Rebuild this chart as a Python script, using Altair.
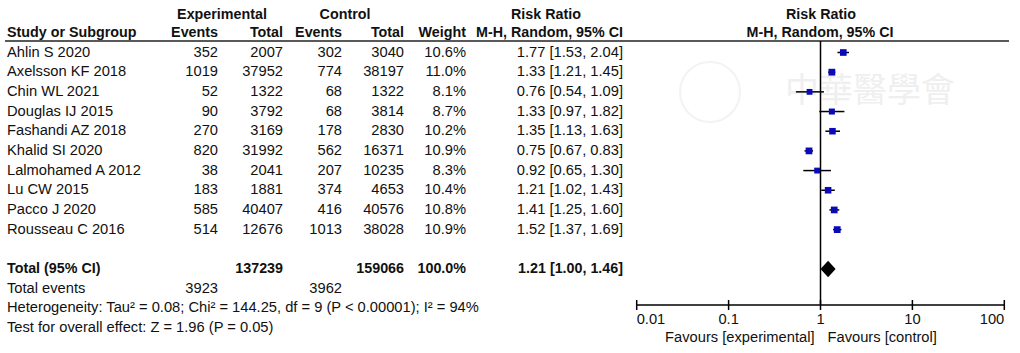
import altair as alt
import pandas as pd

# ---------------- data ----------------
studies = ["Ahlin S 2020", "Axelsson KF 2018", "Chin WL 2021", "Douglas IJ 2015",
           "Fashandi AZ 2018", "Khalid SI 2020", "Lalmohamed A 2012", "Lu CW 2015",
           "Pacco J 2020", "Rousseau C 2016"]
exp_events = [352, 1019, 52, 90, 270, 820, 38, 183, 585, 514]
exp_total = [2007, 37952, 1322, 3792, 3169, 31992, 2041, 1881, 40407, 12676]
ctrl_events = [302, 774, 68, 68, 178, 562, 207, 374, 416, 1013]
ctrl_total = [3040, 38197, 1322, 3814, 2830, 16371, 10235, 4653, 40576, 38028]
weight = [10.6, 11.0, 8.1, 8.7, 10.2, 10.9, 8.3, 10.4, 10.8, 10.9]
rr = [1.77, 1.33, 0.76, 1.33, 1.35, 0.75, 0.92, 1.21, 1.41, 1.52]
rr_lo = [1.53, 1.21, 0.54, 0.97, 1.13, 0.67, 0.65, 1.02, 1.25, 1.37]
rr_hi = [2.04, 1.45, 1.09, 1.82, 1.63, 0.83, 1.30, 1.43, 1.60, 1.69]

total_exp = 137239
total_ctrl = 159066
total_weight = 100.0
total_exp_events = 3923
total_ctrl_events = 3962
pooled_rr = 1.21
pooled_lo = 1.00
pooled_hi = 1.46

heterogeneity = "Heterogeneity: Tau² = 0.08; Chi² = 144.25, df = 9 (P < 0.00001); I² = 94%"
overall_test = "Test for overall effect: Z = 1.96 (P = 0.05)"

tick_values = [0.01, 0.1, 1, 10, 100]
tick_labels = ["0.01", "0.1", "1", "10", "100"]
favours_left = "Favours [experimental]"
favours_right = "Favours [control]"
watermark = "中華醫學會"

# ---------------- tables ----------------
study_rows = list(range(len(studies)))
ROW_TOTAL, ROW_EVENTS, ROW_HET, ROW_TEST = 11, 12, 13, 14

df = pd.DataFrame({
    "row": study_rows, "study": studies,
    "ee": exp_events, "et": exp_total, "ce": ctrl_events, "ct": ctrl_total,
    "w": weight, "rr": rr, "lo": rr_lo, "hi": rr_hi,
})
df["wtxt"] = [f"{v:.1f}%" for v in weight]
df["rrtxt"] = [f"{a:.2f} [{b:.2f}, {c:.2f}]" for a, b, c in zip(rr, rr_lo, rr_hi)]

df_total = pd.DataFrame({
    "row": [ROW_TOTAL], "label": ["Total (95% CI)"],
    "et": [str(total_exp)], "ct": [str(total_ctrl)],
    "w": [f"{total_weight:.1f}%"],
    "rrtxt": [f"{pooled_rr:.2f} [{pooled_lo:.2f}, {pooled_hi:.2f}]"],
})
df_events = pd.DataFrame({"row": [ROW_EVENTS], "label": ["Total events"],
                          "ee": [str(total_exp_events)], "ce": [str(total_ctrl_events)]})
df_notes = pd.DataFrame({"row": [ROW_HET, ROW_TEST], "label": [heterogeneity, overall_test]})

diamond = pd.DataFrame({"x": [pooled_lo, pooled_rr, pooled_hi], "row": [ROW_TOTAL] * 3,
                        "mid": [0, 1, 0]})
ticks = pd.DataFrame({"tick": tick_values, "label": tick_labels})

FONT = "Liberation Sans"
FS = 14.7
FSB = 14.3
TXT = "#111111"
BLUE = "#0a0ab8"

yscale = alt.Scale(domain=[0, 14], range=[52.5, 328])
xscale = alt.Scale(type="log", domain=[0.01, 100], range=[636.7, 1004.3])
Y = alt.Y("row:Q", scale=yscale, axis=None)


def col(data, field, x, align="right", bold=False):
    return alt.Chart(data).mark_text(
        align=align, baseline="middle", font=FONT, fontSize=FSB if bold else FS,
        fontWeight="bold" if bold else "normal", color=TXT
    ).encode(x=alt.value(x), y=Y, text=alt.Text(f"{field}:N"))


def header(text, x, y, align="center"):
    return alt.Chart(pd.DataFrame({"t": [text]})).mark_text(
        align=align, baseline="middle", font=FONT, fontSize=FSB, fontWeight="bold", color=TXT
    ).encode(x=alt.value(x), y=alt.value(y), text="t:N")


layers = []

# watermark
layers.append(alt.Chart(pd.DataFrame({"t": [watermark]})).mark_text(
    font="Noto Sans CJK TC", fontSize=34, color="#efefef", align="center", baseline="middle"
).encode(x=alt.value(870), y=alt.value(92), text="t:N"))
layers.append(alt.Chart(pd.DataFrame({"t": [watermark]})).mark_point(
    shape="circle", size=3600, filled=False, color="#efefef", strokeWidth=2
).encode(x=alt.value(710), y=alt.value(92)))

# headers
layers += [
    header("Experimental", 222, 15),
    header("Control", 345, 15),
    header("Risk Ratio", 546, 15),
    header("Risk Ratio", 821, 15),
    header("Study or Subgroup", 7, 33, "left"),
    header("Events", 218, 33, "right"),
    header("Total", 283, 33, "right"),
    header("Events", 342, 33, "right"),
    header("Total", 404, 33, "right"),
    header("Weight", 466, 33, "right"),
    header("M-H, Random, 95% CI", 623, 33, "right"),
    header("M-H, Random, 95% CI", 820, 33, "center"),
]
# header separator
layers.append(alt.Chart(pd.DataFrame({"a": [0]})).mark_rule(color="#222222", strokeWidth=1.5)
              .encode(x=alt.value(5), x2=alt.value(1009), y=alt.value(41)))

# study rows
layers += [
    col(df, "study", 7, "left"),
    col(df, "ee", 218), col(df, "et", 283), col(df, "ce", 342), col(df, "ct", 404),
    col(df, "wtxt", 466), col(df, "rrtxt", 623),
]
# totals
layers += [
    col(df_total, "label", 7, "left", True),
    col(df_total, "et", 283, bold=True), col(df_total, "ct", 404, bold=True),
    col(df_total, "w", 466, bold=True), col(df_total, "rrtxt", 623, bold=True),
    col(df_events, "label", 7, "left"),
    col(df_events, "ee", 218), col(df_events, "ce", 342),
    col(df_notes, "label", 7, "left"),
]

# forest plot: line of no effect
layers.append(alt.Chart(pd.DataFrame({"v": [1]})).mark_rule(color="black", strokeWidth=1.5)
              .encode(x=alt.X("v:Q", scale=xscale, axis=None), y=alt.value(41), y2=alt.value(305)))
# CIs
layers.append(alt.Chart(df).mark_rule(color="black", strokeWidth=1.5).encode(
    x=alt.X("lo:Q", scale=xscale, axis=None), x2="hi:Q", y=Y))
# squares
layers.append(alt.Chart(df).mark_square(color=BLUE, opacity=1).encode(
    x=alt.X("rr:Q", scale=xscale, axis=None), y=Y,
    size=alt.Size("w:Q", scale=alt.Scale(domain=[0, 11], range=[0, 46]), legend=None)))
# diamond
layers.append(alt.Chart(diamond).transform_calculate(
    ytop="datum.row - 0.42 * datum.mid", ybot="datum.row + 0.42 * datum.mid"
).mark_area(color="black", opacity=1).encode(
    x=alt.X("x:Q", scale=xscale, axis=None),
    y=alt.Y("ytop:Q", scale=yscale, axis=None), y2="ybot:Q"))

# axis
layers.append(alt.Chart(ticks).mark_rule(color="black", strokeWidth=1.5).encode(
    x=alt.X("min(tick):Q", scale=xscale, axis=None), x2="max(tick):Q", y=alt.value(305)))
layers.append(alt.Chart(ticks).mark_rule(color="black", strokeWidth=1.5).encode(
    x=alt.X("tick:Q", scale=xscale, axis=None), y=alt.value(300), y2=alt.value(310)))
for sel, al in [("datum.tick == 0.01", "left"),
                ("datum.tick > 0.01 && datum.tick < 100", "center"),
                ("datum.tick == 100", "right")]:
    layers.append(alt.Chart(ticks).transform_filter(sel).mark_text(
        align=al, baseline="middle", font=FONT, fontSize=FS, color=TXT
    ).encode(x=alt.X("tick:Q", scale=xscale, axis=None), y=alt.value(320), text="label:N"))

fav = pd.DataFrame({"v": [1]})
layers.append(alt.Chart(fav).mark_text(
    align="right", baseline="middle", font=FONT, fontSize=FS, color=TXT, dx=-6, text=favours_left
).encode(x=alt.X("v:Q", scale=xscale, axis=None), y=alt.value(338)))
layers.append(alt.Chart(fav).mark_text(
    align="left", baseline="middle", font=FONT, fontSize=FS, color=TXT, dx=7, text=favours_right
).encode(x=alt.X("v:Q", scale=xscale, axis=None), y=alt.value(338)))

chart = alt.layer(*layers).properties(
    width=1020, height=353, padding=0, autosize=alt.AutoSizeParams(type="none"),
    background="white"
).configure_view(stroke=None)

chart.save("out.html", embed_options={"renderer": "svg", "actions": False})
